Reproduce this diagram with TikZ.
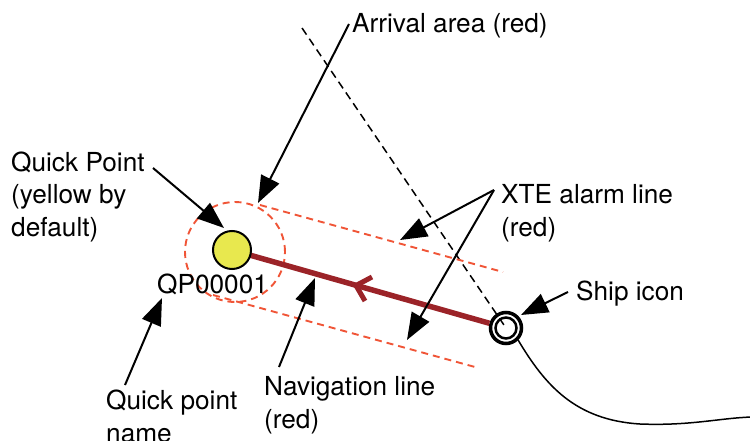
\documentclass[tikz,border=0pt]{standalone}
\usepackage{fontspec}
\setmainfont{TeX Gyre Heros}
\usetikzlibrary{arrows.meta,calc}
\definecolor{navred}{RGB}{155,35,40}
\definecolor{xtered}{RGB}{240,85,55}
\definecolor{qpyellow}{RGB}{232,232,78}
\tikzset{
  lbl/.style={anchor=base west,inner sep=0pt,align=left,font=\fontsize{26.2}{32.5}\selectfont},
  callout/.style={line width=2pt,-{Triangle[length=27pt,width=20pt]}},
  xteline/.style={xtered,line width=1.9pt,dash pattern=on 7pt off 5pt},
  navline/.style={navred,line width=5.5pt},
}
\begin{document}
\begin{tikzpicture}[x=1pt,y=-1pt]
\useasboundingbox (0,0) rectangle (750,441);
% key points
\coordinate (qpc) at (232,250);
\coordinate (shc) at (506,328);
\coordinate (dstart) at (302,28);
% course dashed line
\draw[line width=1.5pt,dash pattern=on 8pt off 5pt] (dstart) -- (shc);
% arrival area
\node[circle,draw=xtered,line width=1.9pt,dash pattern=on 7pt off 5pt,minimum size=100pt,inner sep=0pt] (arr) at (235,252) {};
% XTE lines
\coordinate (xu1) at (260,205);
\coordinate (xu2) at (503,272);
\coordinate (xl1) at (213,295);
\coordinate (xl2) at (475,367);
\draw[xteline] (xu1) -- (xu2);
\draw[xteline] (xl1) -- (xl2);
% ship icon
\node[circle,draw,line width=3.5pt,minimum size=31pt,inner sep=0pt] (ship) at (shc) {};
\node[circle,draw,line width=2.5pt,minimum size=21pt,inner sep=0pt] (shipin) at (shc) {};
% navigation line
\draw[navline] (qpc) -- (ship);
\coordinate (cv) at (356,285.5);
\coordinate (ca) at (372,277);
\coordinate (cb) at (365,301);
\draw[navline,line width=5pt] (ca) -- (cv) -- (cb);
% quick point
\node[circle,draw,fill=qpyellow,line width=2pt,minimum size=38pt,inner sep=0pt] (qp) at (qpc) {};
% track
\coordinate (tend) at (752,417);
\draw[line width=1.5pt] (ship.-45) .. controls (545,385) and (575,420) .. (640,424)
  .. controls (690,426) and (720,418) .. (tend);
% labels (base = last line baseline)
\node[lbl] (tarr) at (352,33) {Arrival area (red)};
\node[lbl] (tqp) at (11,236) {Quick Point\\(yellow by\\default)};
\node[lbl] (txte) at (501,236) {XTE alarm line\\(red)};
\node[lbl] (tship) at (576,300) {Ship icon};
\node[lbl] (tname) at (157,293) {QP00001};
\node[lbl] (tqpn) at (106,442) {Quick point\\name};
\node[lbl] (tnav) at (264,428) {Navigation line\\(red)};
% callouts
\coordinate (a1s) at (349,24);
\coordinate (a1e) at (258,203);
\draw[callout] (a1s) -- (a1e);
\coordinate (a2s) at (153,168);
\coordinate (a2e) at (224,228);
\draw[callout] (a2s) -- (a2e);
\coordinate (a3s) at (494,190);
\coordinate (a3e) at (400,240);
\coordinate (a4e) at (407,340);
\draw[callout] (a3s) -- (a3e);
\draw[callout] (a3s) -- (a4e);
\coordinate (a5s) at (568,292);
\coordinate (a5e) at (521,315);
\draw[callout] (a5s) -- (a5e);
\coordinate (a6s) at (125,385);
\coordinate (a6e) at (162,298);
\draw[callout] (a6s) -- (a6e);
\coordinate (a7s) at (279,367);
\coordinate (a7e) at (315,278);
\draw[callout] (a7s) -- (a7e);
\end{tikzpicture}
\end{document}
